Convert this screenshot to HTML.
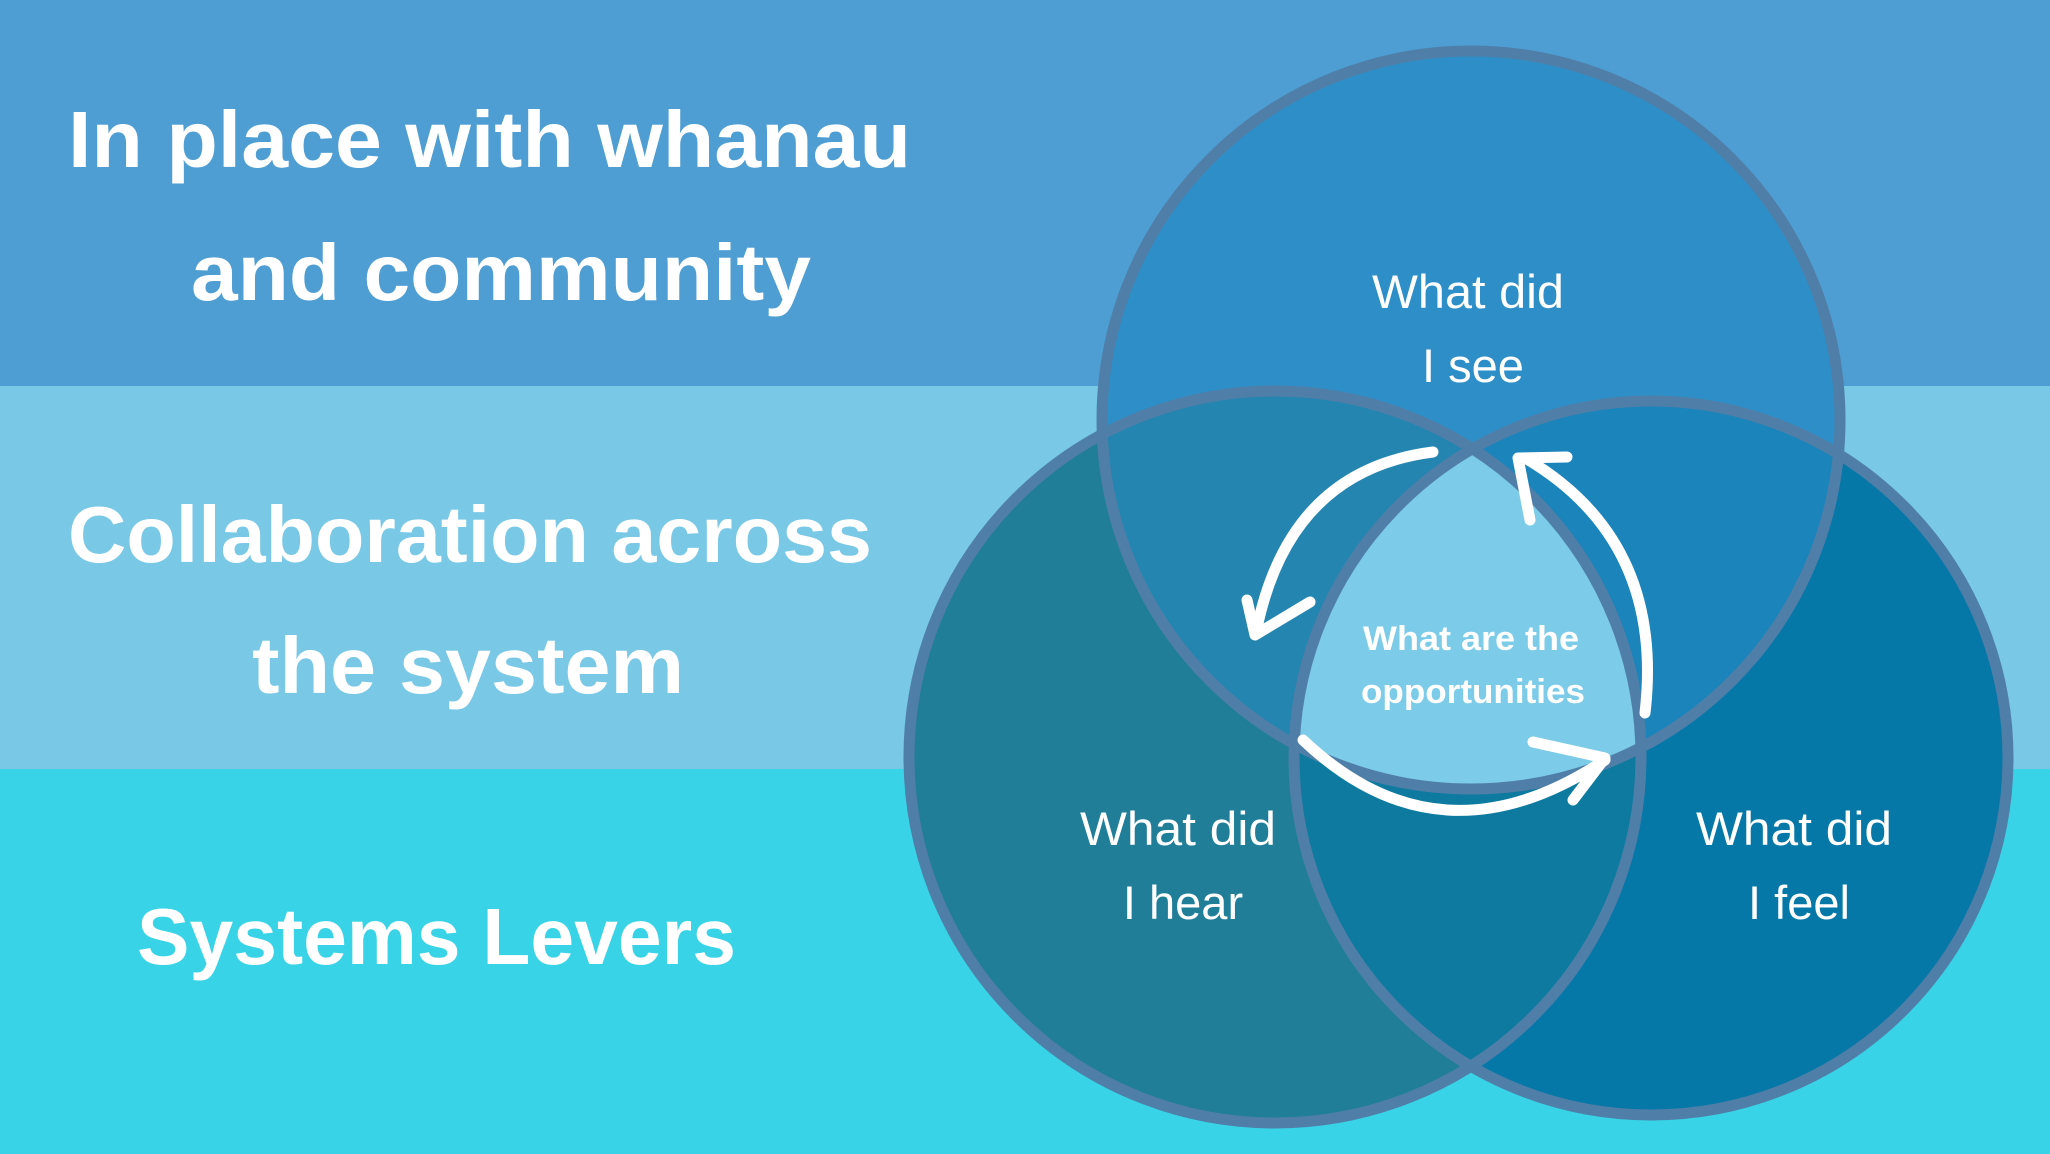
<!DOCTYPE html>
<html><head><meta charset="utf-8"><style>
html,body{margin:0;padding:0;width:2050px;height:1154px;overflow:hidden}
svg{display:block}
</style></head><body>
<svg width="2050" height="1154" viewBox="0 0 2050 1154" xmlns="http://www.w3.org/2000/svg">
<defs>
<clipPath id="cT"><circle cx="1471" cy="420" r="369"/></clipPath>
<clipPath id="cL"><circle cx="1275" cy="757" r="366"/></clipPath>
<clipPath id="cR"><circle cx="1651" cy="758" r="357"/></clipPath>
</defs>
<rect x="0" y="0" width="2050" height="386" fill="#4e9ed3"/>
<rect x="0" y="386" width="2050" height="383" fill="#78c8e6"/>
<rect x="0" y="769" width="2050" height="385" fill="#38d3e6"/>

<circle cx="1275" cy="757" r="366" fill="#207e98"/>
<circle cx="1651" cy="758" r="357" fill="#0678a8"/>
<circle cx="1471" cy="420" r="369" fill="#2e8ec8"/>
<g clip-path="url(#cT)"><circle cx="1275" cy="757" r="366" fill="#2485b0"/><circle cx="1651" cy="758" r="357" fill="#1b84bb"/></g>
<g clip-path="url(#cL)"><circle cx="1651" cy="758" r="357" fill="#0e7aa0"/></g>
<g clip-path="url(#cL)"><g clip-path="url(#cR)"><circle cx="1471" cy="420" r="369" fill="#7ccbe8"/></g></g>
<g fill="none" stroke="#4f7fa8" stroke-width="11">
<circle cx="1471" cy="420" r="369"/>
<circle cx="1275" cy="757" r="366"/>
<circle cx="1651" cy="758" r="357"/>
</g>

<g fill="none" stroke="#fff" stroke-width="11" stroke-linecap="round" stroke-linejoin="round">
<path d="M1433,452 Q1290,470 1257,628"/>
<polyline points="1247,600 1255,635 1310,602"/>
<path d="M1645,713 Q1665,540 1525,458"/>
<polyline points="1530,520 1518,458 1567,457"/>
<path d="M1303,740 Q1440,870 1605,760"/>
<polyline points="1533,742 1605,758 1573,800"/>
</g>

<g fill="#fff" font-family="'Liberation Sans',sans-serif" font-weight="bold">
<text x="68" y="167" font-size="80" textLength="843" lengthAdjust="spacingAndGlyphs">In place with whanau</text>
<text x="501" y="300" font-size="80" text-anchor="middle" textLength="620" lengthAdjust="spacingAndGlyphs">and community</text>
<text x="68" y="562" font-size="80" textLength="804" lengthAdjust="spacingAndGlyphs">Collaboration across</text>
<text x="468" y="693" font-size="80" text-anchor="middle" textLength="432" lengthAdjust="spacingAndGlyphs">the system</text>
<text x="137" y="964" font-size="80" textLength="599" lengthAdjust="spacingAndGlyphs">Systems Levers</text>
<text x="1471" y="650" font-size="34" text-anchor="middle" textLength="216" lengthAdjust="spacingAndGlyphs">What are the</text>
<text x="1473" y="703" font-size="34" text-anchor="middle" textLength="224" lengthAdjust="spacingAndGlyphs">opportunities</text>
</g>
<g fill="#fff" font-family="'Liberation Sans',sans-serif" font-size="47" text-anchor="middle">
<text x="1468" y="308" textLength="192" lengthAdjust="spacingAndGlyphs">What did</text>
<text x="1473" y="382">I see</text>
<text x="1178" y="845" textLength="196" lengthAdjust="spacingAndGlyphs">What did</text>
<text x="1183" y="919">I hear</text>
<text x="1794" y="845" textLength="196" lengthAdjust="spacingAndGlyphs">What did</text>
<text x="1799" y="919">I feel</text>
</g>
</svg>
</body></html>
